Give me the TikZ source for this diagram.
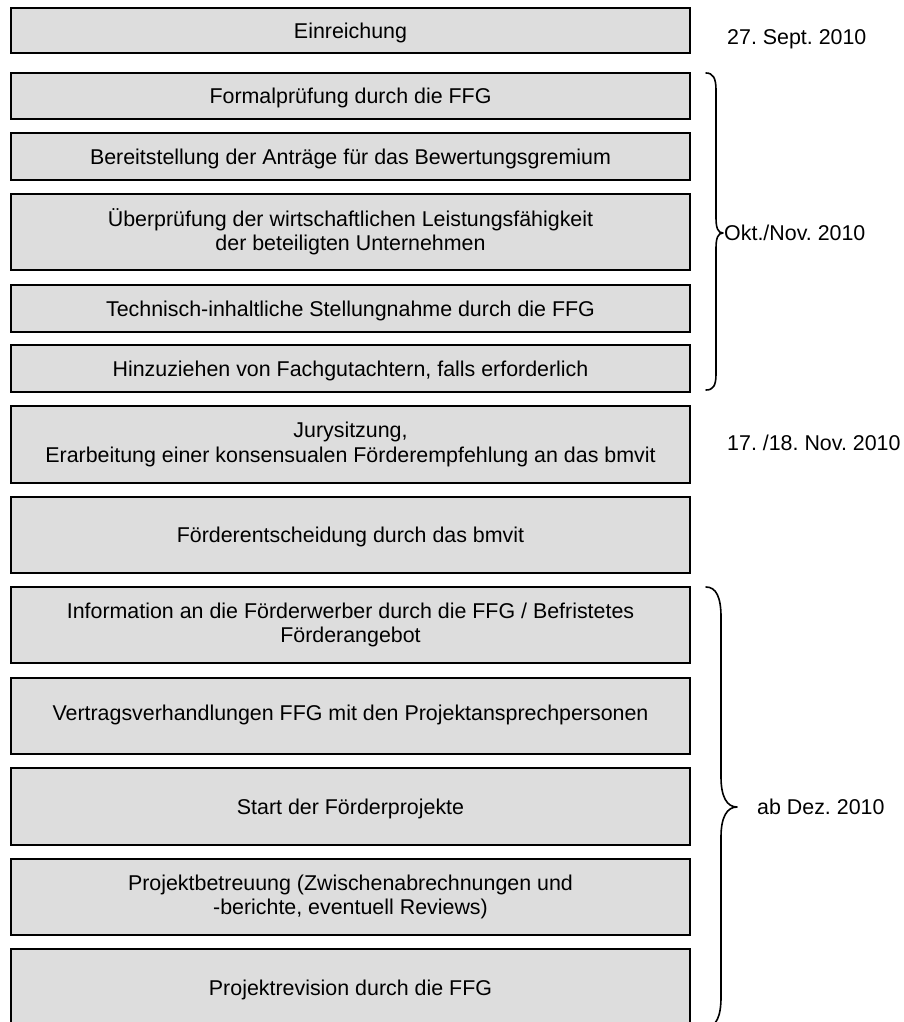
\documentclass[tikz,border=0pt]{standalone}
\usepackage{fontspec}
\setmainfont{Liberation Sans}
\frenchspacing
\definecolor{boxgray}{RGB}{221,221,221}
\begin{document}
\begin{tikzpicture}[x=1pt,y=-1pt,
  stepbox/.style={draw=black,fill=boxgray,line width=1.2pt,rectangle,minimum width=679pt,inner sep=0pt,align=center,
    font=\fontsize{21.4}{24.5}\selectfont},
  oneline/.style={text height=15.3pt,text depth=0pt},
  datelabel/.style={anchor=west,inner sep=0pt,text height=15.3pt,text depth=0pt,font=\fontsize{21.4}{24.5}\selectfont},
  bracestyle/.style={line width=1.6pt,line join=round,line cap=round}]
\useasboundingbox (0,0) rectangle (904,1022);
\clip (0,0) rectangle (904,1022);
\node[stepbox,oneline,minimum height=45pt] (b1) at (350.5,30.5) {Einreichung};
\node[stepbox,oneline,minimum height=46pt] (b2) at (350.5,96) {Formalprüfung durch die FFG};
\node[stepbox,oneline,minimum height=47pt] (b3) at (350.5,156.5) {Bereitstellung der Anträge für das Bewertungsgremium};
\node[stepbox,minimum height=76pt] (b4) at (350.5,232) {Überprüfung der wirtschaftlichen Leistungsfähigkeit\\der beteiligten Unternehmen};
\node[stepbox,oneline,minimum height=47pt] (b5) at (350.5,308.5) {Technisch-inhaltliche Stellungnahme durch die FFG};
\node[stepbox,oneline,minimum height=47pt] (b6) at (350.5,368.5) {Hinzuziehen von Fachgutachtern, falls erforderlich};
\node[stepbox,minimum height=77pt] (b7) at (350.5,444.5) {Jurysitzung,\\Erarbeitung einer konsensualen Förderempfehlung an das bmvit};
\node[stepbox,oneline,minimum height=76pt] (b8) at (350.5,535) {Förderentscheidung durch das bmvit};
\node[stepbox,minimum height=76pt] (b9) at (350.5,625) {Information an die Förderwerber durch die FFG / Befristetes\\Förderangebot};
\node[stepbox,oneline,minimum height=76pt] (b10) at (350.5,716) {\raisebox{3pt}{Vertragsverhandlungen FFG mit den Projektansprechpersonen}};
\node[stepbox,oneline,minimum height=77pt] (b11) at (350.5,806.5) {Start der Förderprojekte};
\node[stepbox,minimum height=76pt] (b12) at (350.5,897) {Projektbetreuung (Zwischenabrechnungen und\\-berichte, eventuell Reviews)};
\node[stepbox,oneline,minimum height=77pt] (b13) at (350.5,987.5) {Projektrevision durch die FFG};

\node[datelabel] (d1) at (727,37) {27. Sept. 2010};
\node[datelabel] (d2) at (724,233) {Okt./Nov. 2010};
\node[datelabel] (d3) at (727,443) {17. /18. Nov. 2010};
\node[datelabel] (d4) at (757,807) {ab Dez. 2010};

\draw[bracestyle] (706,73) .. controls (713,73) and (716,78) .. (716,90) -- (716,218)
  .. controls (716,228) and (718,233) .. (723,233)
  .. controls (718,233) and (716,238) .. (716,248) -- (716,374)
  .. controls (716,386) and (713,390) .. (706,390);
\draw[bracestyle] (706,587) .. controls (716,587) and (721,597) .. (721,617) -- (721,777)
  .. controls (721,797) and (727,807) .. (737,807)
  .. controls (727,807) and (721,817) .. (721,837) -- (721,997)
  .. controls (721,1017) and (716,1027) .. (706,1027);
\end{tikzpicture}
\end{document}
